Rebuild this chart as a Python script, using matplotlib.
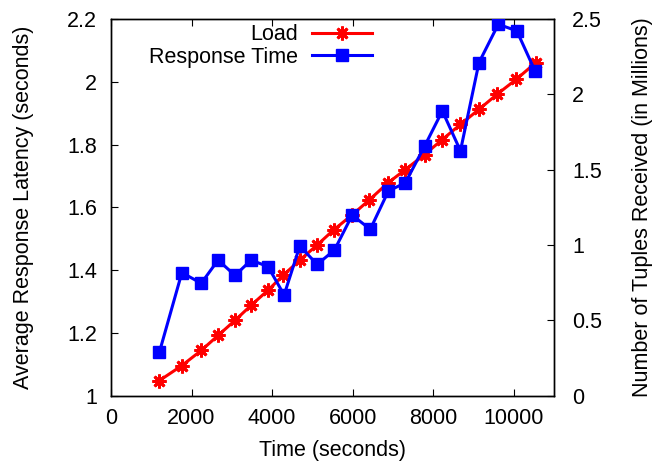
import matplotlib
matplotlib.use("Agg")
import matplotlib.pyplot as plt
from matplotlib.lines import Line2D

plt.rcParams["font.family"] = ["Liberation Sans", "DejaVu Sans"]

# Load series (right axis, millions of tuples)
load_time = [1200, 1760, 2240, 2660, 3080, 3480, 3900, 4280, 4690, 5120, 5530,
             5990, 6420, 6870, 7310, 7790, 8230, 8680, 9140, 9590, 10070, 10550]
load_tuples = [0.10, 0.20, 0.30, 0.40, 0.50, 0.60, 0.70, 0.80, 0.90, 1.00, 1.10,
               1.20, 1.30, 1.41, 1.50, 1.60, 1.70, 1.80, 1.90, 2.00, 2.10, 2.21]

# Response time series (left axis, seconds)
resp_time = [1200, 1760, 2240, 2660, 3080, 3480, 3900, 4300, 4690, 5120, 5550,
             5990, 6440, 6890, 7310, 7790, 8230, 8680, 9140, 9620, 10080, 10530]
resp_latency = [1.138, 1.392, 1.358, 1.432, 1.383, 1.432, 1.411, 1.321, 1.477, 1.418,
                1.464, 1.575, 1.530, 1.652, 1.678, 1.795, 1.907, 1.780, 2.061, 2.183,
                2.162, 2.035]

x_ticks = [0, 2000, 4000, 6000, 8000, 10000]
left_ticks = [1, 1.2, 1.4, 1.6, 1.8, 2, 2.2]
right_ticks = [0, 0.5, 1, 1.5, 2, 2.5]

RED = "#ff0000"
BLUE = "#0000ff"
FS = 15.5
STAR = (8, 2, 0)

fig = plt.figure(figsize=(6.57, 4.62), dpi=100)
ax = fig.add_axes([0.169, 0.1435, 0.674, 0.8155])
ax2 = ax.twinx()

ax.plot(resp_time, resp_latency, color=BLUE, lw=2.2, marker="s", markersize=8.5,
        zorder=3)
ax2.plot(load_time, load_tuples, color=RED, lw=2.2, marker=STAR, markersize=10,
         markeredgewidth=2.0, zorder=2)

ax.set_zorder(ax2.get_zorder() + 1)
ax.patch.set_visible(False)

ax.set_xlim(0, 11000)
ax.set_ylim(1, 2.2)
ax2.set_ylim(0, 2.5)
ax.set_xticks(x_ticks)
ax.set_yticks(left_ticks)
ax.set_yticklabels([f"{v:g}" for v in left_ticks])
ax2.set_yticks(right_ticks)
ax2.set_yticklabels([f"{v:g}" for v in right_ticks])

ax.tick_params(axis="x", direction="in", top=True, length=5, labelsize=FS, pad=9)
ax.tick_params(axis="y", direction="in", length=5, labelsize=FS, pad=10)
ax2.tick_params(axis="y", direction="in", length=5, labelsize=FS, pad=13)

for a in (ax, ax2):
    for s in a.spines.values():
        s.set_linewidth(1.0)
        s.set_color("black")

ax.set_xlabel("Time (seconds)", fontsize=FS, labelpad=8)
ax.set_ylabel("Average Response Latency (seconds)", fontsize=FS, labelpad=24)
ax2.set_ylabel("Number of Tuples Received (in Millions)", fontsize=FS, labelpad=22)

handles = [
    Line2D([], [], color=RED, lw=2.2, marker=STAR, markersize=10,
           markeredgewidth=2.0, label="Load"),
    Line2D([], [], color=BLUE, lw=2.2, marker="s", markersize=8.5,
           label="Response Time"),
]
ax.legend(handles=handles, loc="upper right", bbox_to_anchor=(0.566, 0.947),
          bbox_transform=fig.transFigure, markerfirst=False, frameon=False,
          fontsize=FS, handlelength=2.8, labelspacing=0.05, handletextpad=0.65,
          borderpad=0, borderaxespad=0)

fig.savefig("out.png", dpi=100)
